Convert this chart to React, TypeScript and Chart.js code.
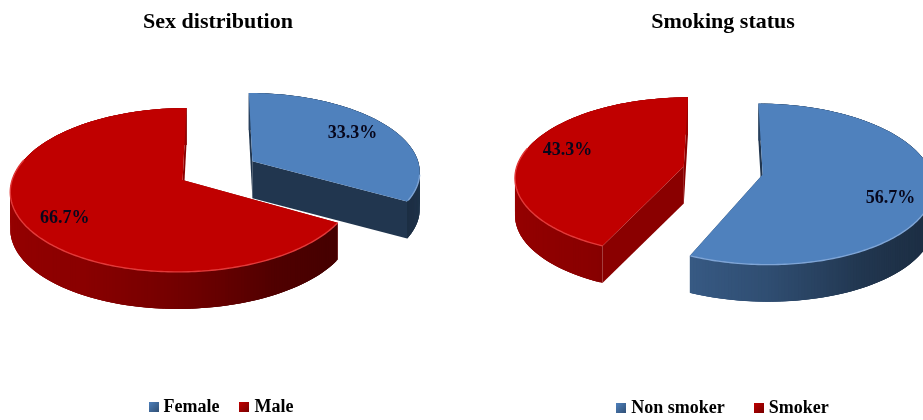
import React, { useEffect, useRef } from "react";
import { Chart, registerables } from "chart.js";

Chart.register(...registerables);

const sexLabels = ["Female", "Male"];
const sexValues = [33.3, 66.7];
const smokingLabels = ["Non smoker", "Smoker"];
const smokingValues = [56.7, 43.3];

const BLUE = [79, 129, 189];
const RED = [192, 0, 0];
const FONT = "'Liberation Serif', 'Times New Roman', serif";

// Projection of the pie's ground plane: perspective view from above and in front.
const SCALE_X = 168;
const SCALE_Y = 78.4;
const PERSPECTIVE = 0.12;
const PLANE_Y = 170.45;
const DEPTH = 37;
const EXPLODE = 0.24;
const LABEL_RADIUS = 0.77;

const project = (cx: number, X: number, Y: number) => {
  const w = 1 - PERSPECTIVE * Y;
  return [cx + (SCALE_X * X) / w, PLANE_Y + (SCALE_Y * Y) / w];
};

const rad = (deg: number) => (deg * Math.PI) / 180;
const rgb = (c: number[], k: number) =>
  `rgb(${Math.round(c[0] * k)},${Math.round(c[1] * k)},${Math.round(c[2] * k)})`;

// Side-wall brightness by compass angle around the pie (degrees clockwise from top).
const SHADE: number[][] = [
  [0, 0.5], [90, 0.42], [118, 0.36], [135, 0.38], [150, 0.42], [180, 0.6],
  [210, 0.72], [270, 0.8], [360, 0.8],
];
const shadeAt = (deg: number) => {
  const d = ((deg % 360) + 360) % 360;
  for (let i = 1; i < SHADE.length; i++) {
    if (d <= SHADE[i][0]) {
      const [a, ka] = SHADE[i - 1];
      const [b, kb] = SHADE[i];
      return ka + ((kb - ka) * (d - a)) / (b - a);
    }
  }
  return 0.8;
};

const makeSwatch = (c: number[]) => {
  const cv = document.createElement("canvas");
  cv.width = 10;
  cv.height = 10;
  const g = cv.getContext("2d")!;
  const grad = g.createLinearGradient(0, 0, 10, 10);
  grad.addColorStop(0, rgb(c, 1));
  grad.addColorStop(1, rgb(c, 0.62));
  g.fillStyle = grad;
  g.fillRect(0, 0, 10, 10);
  return cv;
};

const pie3d = {
  id: "pie3d",
  afterLayout(chart: any, _args: any, opts: any) {
    chart.legend.left += opts.legendShift[0];
    chart.legend.right += opts.legendShift[0];
    chart.legend.top += opts.legendShift[1];
    chart.legend.bottom += opts.legendShift[1];
  },
  beforeDatasetDraw(chart: any, args: any, opts: any) {
    const { ctx } = chart;
    const values: number[] = chart.data.datasets[args.index].data;
    const cx = chart.getDatasetMeta(args.index).data[0].x;

    chart.getDatasetMeta(args.index).data.forEach((arc: any, i: number) => {
      const color: number[] = opts.colors[i];
      const start = (arc.startAngle * 180) / Math.PI + 90;
      const end = (arc.endAngle * 180) / Math.PI + 90;
      const mid = (start + end) / 2;
      const ox = EXPLODE * Math.sin(rad(mid));
      const oy = -EXPLODE * Math.cos(rad(mid));
      const rim = (deg: number) => project(cx, ox + Math.sin(rad(deg)), oy - Math.cos(rad(deg)));
      const apex = project(cx, ox, oy);

      const wall = (p: number[], q: number[], fill: string) => {
        ctx.beginPath();
        ctx.moveTo(p[0], p[1]);
        ctx.lineTo(q[0], q[1]);
        ctx.lineTo(q[0], q[1] + DEPTH);
        ctx.lineTo(p[0], p[1] + DEPTH);
        ctx.closePath();
        ctx.fillStyle = fill;
        ctx.fill();
      };

      // Flat cut faces, then the curved outer wall, then the top face over both.
      const cutFill = rgb(color, opts.cutShade[i]);
      wall(apex, rim(start), cutFill);
      wall(apex, rim(end), cutFill);
      // Neighbouring strips overlap so no seams show between them.
      for (let d = start; d < end; d += 1) {
        wall(rim(d), rim(Math.min(d + 3, end)), rgb(color, shadeAt(d + 0.5)));
      }

      ctx.beginPath();
      ctx.moveTo(apex[0], apex[1]);
      for (let d = start; d <= end; d += 1) {
        const p = rim(d);
        ctx.lineTo(p[0], p[1]);
      }
      const last = rim(end);
      ctx.lineTo(last[0], last[1]);
      ctx.closePath();
      ctx.fillStyle = rgb(color, 1);
      ctx.fill();

      // Bevel highlight along the near edge of the top face.
      const from = Math.max(start, 100);
      const to = Math.min(end, 285);
      if (to > from) {
        ctx.beginPath();
        for (let d = from; d <= to; d += 1) {
          const p = rim(d);
          if (d === from) ctx.moveTo(p[0], p[1]);
          else ctx.lineTo(p[0], p[1]);
        }
        ctx.strokeStyle = opts.rimColors[i];
        ctx.lineWidth = 1.4;
        ctx.stroke();
      }

      // Percentage label sitting on the slice's top face.
      const a = mid + opts.labelTurn;
      const pos = project(
        cx,
        ox + LABEL_RADIUS * Math.sin(rad(a)),
        oy - LABEL_RADIUS * Math.cos(rad(a))
      );
      ctx.save();
      ctx.font = `bold 18px ${FONT}`;
      ctx.fillStyle = "#07071c";
      ctx.textAlign = "center";
      ctx.textBaseline = "middle";
      ctx.fillText(`${values[i]}%`, pos[0], pos[1] + 3);
      ctx.restore();
    });
    return false;
  },
};

type PanelProps = {
  left: number;
  width: number;
  title: string;
  labels: string[];
  values: number[];
  colors: number[][];
  cutShade: number[];
  rimColors: string[];
  labelTurn: number;
  legendShift: number[];
  legendGap: number;
};

function Panel(p: PanelProps) {
  const ref = useRef<HTMLCanvasElement>(null);
  useEffect(() => {
    const swatches = p.colors.map(makeSwatch);
    const chart = new Chart(ref.current!, {
      type: "pie",
      data: {
        labels: p.labels,
        datasets: [{ data: p.values, backgroundColor: p.colors.map((c) => rgb(c, 1)) }],
      },
      plugins: [pie3d],
      options: {
        responsive: false,
        animation: false,
        layout: { padding: { top: 9, bottom: 2 } },
        plugins: {
          tooltip: { enabled: false },
          title: {
            display: true,
            text: p.title,
            color: "#000",
            font: { family: FONT, size: 22, weight: "bold" },
            padding: { top: 0, bottom: 8 },
          },
          legend: {
            position: "bottom",
            labels: {
              usePointStyle: true,
              pointStyleWidth: 2,
              boxWidth: 2,
              boxHeight: 10,
              padding: p.legendGap,
              color: "#000",
              font: { family: FONT, size: 18, weight: "bold" },
              generateLabels: (c: any) =>
                c.data.labels.map((text: string, index: number) => ({
                  text,
                  index,
                  hidden: false,
                  fontColor: "#000",
                  pointStyle: swatches[index],
                })),
            },
          },
          pie3d: {
            colors: p.colors,
            cutShade: p.cutShade,
            rimColors: p.rimColors,
            labelTurn: p.labelTurn,
            legendShift: p.legendShift,
          },
        },
      } as any,
    });
    return () => chart.destroy();
  }, []);
  return (
    <canvas
      ref={ref}
      width={p.width}
      height={420}
      style={{ position: "absolute", left: p.left, top: 0, width: p.width, height: 420 }}
    />
  );
}

export default function App() {
  return (
    <div
      style={{
        position: "absolute",
        left: 0,
        top: 0,
        width: 923,
        height: 420,
        overflow: "hidden",
        background: "#fff",
      }}
    >
      <Panel
        left={0}
        width={436}
        title="Sex distribution"
        labels={sexLabels}
        values={sexValues}
        colors={[BLUE, RED]}
        cutShade={[0.42, 0.72]}
        rimColors={["#7fa5d6", "#e23a3a"]}
        labelTurn={-3}
        legendShift={[5, 8]}
        legendGap={24}
      />
      <Panel
        left={498}
        width={450}
        title="Smoking status"
        labels={smokingLabels}
        values={smokingValues}
        colors={[BLUE, RED]}
        cutShade={[0.42, 0.72]}
        rimColors={["#7fa5d6", "#e23a3a"]}
        labelTurn={7.5}
        legendShift={[1.5, 9]}
        legendGap={33}
      />
    </div>
  );
}
